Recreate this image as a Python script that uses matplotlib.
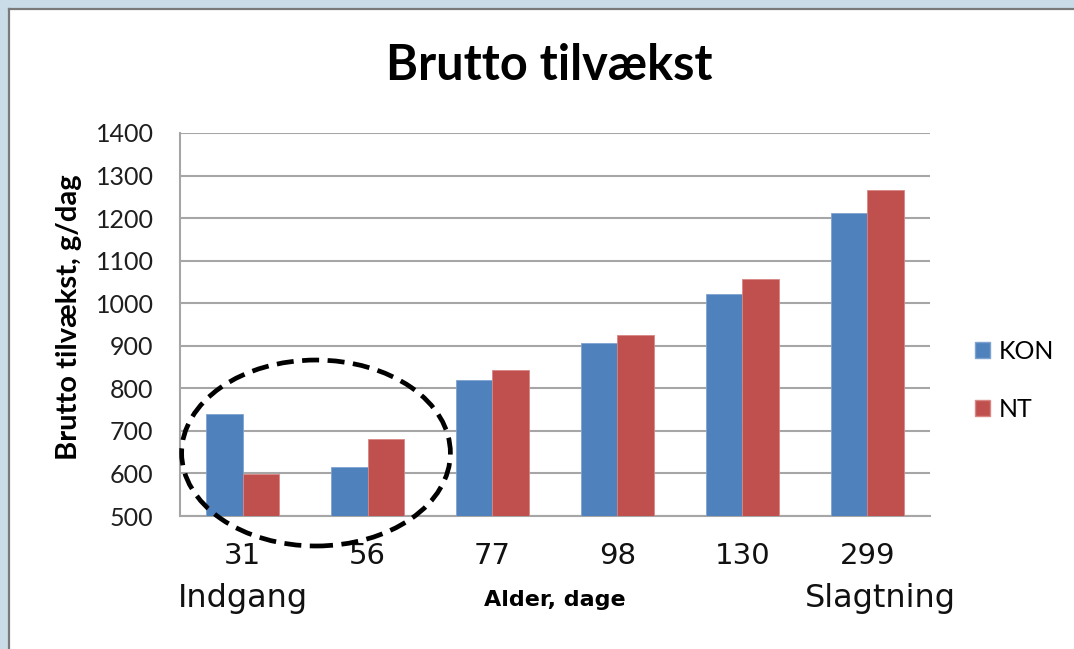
import matplotlib
matplotlib.use('Agg')
import matplotlib.pyplot as plt
from matplotlib.patches import Ellipse, Rectangle, Patch
from matplotlib.lines import Line2D
import numpy as np

# data
ages = ['31', '56', '77', '98', '130', '299']
kon = [740, 614, 820, 907, 1022, 1211]
nt = [599, 682, 843, 925, 1056, 1265]
series_names = ['KON', 'NT']
kon_color = '#4F81BD'
nt_color = '#C0504D'

fig = plt.figure(figsize=(10.74, 6.49), dpi=100)
fig.patch.set_facecolor('#c9dce7')

# white slide panel with grey top/left edge
fig.patches.append(Rectangle((9 / 1074, 0), 1, 1 - 8 / 649, transform=fig.transFigure,
                             facecolor='white', edgecolor='none', zorder=-10))
fig.lines.append(Line2D([9 / 1074, 1], [1 - 8.5 / 649, 1 - 8.5 / 649], transform=fig.transFigure,
                        color='#7a7a7a', lw=1.6, zorder=-9))
fig.lines.append(Line2D([9 / 1074, 9 / 1074], [0, 1 - 8.5 / 649], transform=fig.transFigure,
                        color='#7a7a7a', lw=1.6, zorder=-9))

ax = fig.add_axes([180 / 1074, 1 - 516 / 649, 750 / 1074, 383 / 649])
ax.set_facecolor('white')

x = np.arange(len(ages))
w = 0.29
ax.bar(x - w / 2, kon, w, color=kon_color, edgecolor='#7fa3cf', linewidth=0.6, zorder=3, label=series_names[0])
ax.bar(x + w / 2, nt, w, color=nt_color, edgecolor='#d98684', linewidth=0.6, zorder=3, label=series_names[1])

ax.set_xlim(-0.5, len(ages) - 0.5)
ax.set_ylim(500, 1400)
ax.set_yticks(np.arange(500, 1401, 100))
ax.yaxis.grid(True, color='#a6a6a6', lw=1.5, zorder=0)
ax.set_axisbelow(True)
for s in ['top', 'right']:
    ax.spines[s].set_visible(False)
for s in ['left', 'bottom']:
    ax.spines[s].set_color('#a6a6a6')
    ax.spines[s].set_linewidth(1.5)

ax.set_xticks(x)
ax.set_xticklabels(ages, fontsize=21, family='DejaVu Sans', color='#111111')
ax.tick_params(axis='x', length=0, pad=19)
ax.tick_params(axis='y', length=0, pad=19, labelsize=18, labelcolor='#1e1e1e')
for lbl in ax.get_yticklabels():
    lbl.set_family('Lato')

# lower labels under the first and last age
ax.text(0, -0.215, 'Indgang', transform=ax.get_xaxis_transform(), fontsize=23,
        family='DejaVu Sans', ha='center', va='center', color='#111111')
ax.text(5.1, -0.215, 'Slagtning', transform=ax.get_xaxis_transform(), fontsize=23,
        family='DejaVu Sans', ha='center', va='center', color='#111111')

ax.set_xlabel('Alder, dage', fontsize=16, fontweight='bold', family='DejaVu Sans', labelpad=14)
fig.text(69 / 1074, 1 - 317 / 649, 'Brutto tilvækst, g/dag', rotation=90, fontsize=21,
         fontweight='bold', family='Lato', ha='center', va='center')
fig.text(549 / 1074, 1 - 66 / 649, 'Brutto tilvækst', fontsize=35, fontweight='bold',
         family='Lato', ha='center', va='center')

# dashed ellipse around the first two groups
ax.add_patch(Ellipse((0.588, 648), 2.15, 437, fill=False, edgecolor='black', lw=3.4,
                     linestyle=(0, (3.6, 1.8)), clip_on=False, zorder=5))

handles = [Patch(facecolor=kon_color, edgecolor='#7fa3cf'), Patch(facecolor=nt_color, edgecolor='#d98684')]
leg = ax.legend(handles, series_names, loc='center left', bbox_to_anchor=(1.06, 0.355),
                frameon=False, fontsize=18, handlelength=0.6, handleheight=0.6,
                handletextpad=0.36, labelspacing=1.4, borderpad=0, borderaxespad=0)
for t in leg.get_texts():
    t.set_family('Lato')

fig.savefig('out.png', dpi=100, facecolor=fig.get_facecolor())
